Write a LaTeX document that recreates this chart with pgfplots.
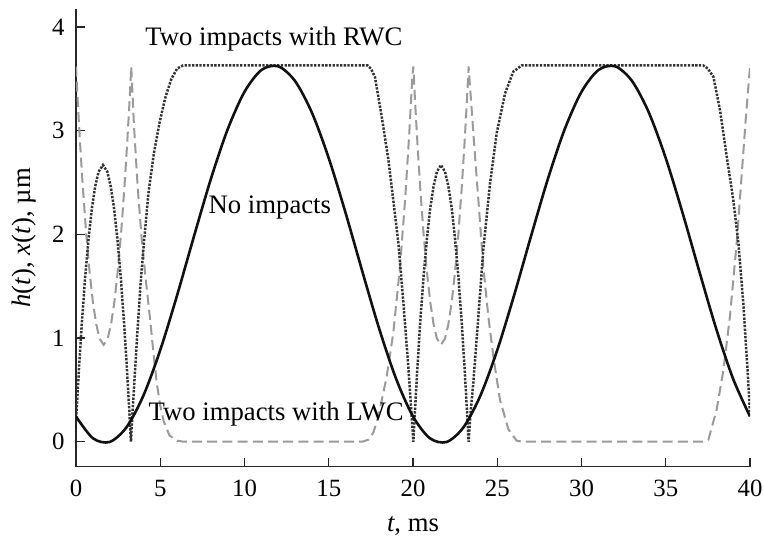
\documentclass[border=0pt]{standalone}
\usepackage{fontspec}
\setmainfont{Liberation Serif}
\usepackage{pgfplots}
\pgfplotsset{compat=1.18}
\definecolor{dotc}{HTML}{333333}
\definecolor{dashc}{HTML}{9A9A9A}
\definecolor{linec}{HTML}{111111}
\begin{document}
\begin{tikzpicture}
\begin{axis}[
  width=337pt, height=228.8pt, scale only axis,
  xmin=0, xmax=40, ymin=-0.24, ymax=4.175,
  axis lines=left,
  axis line style={-, line width=0.65pt, black!85},
  tick align=inside, major tick length=4.5pt,
  tick style={line width=0.65pt, black!85},
  xtick={0,5,...,40}, ytick={0,1,2,3,4},
  /pgf/number format/assume math mode=true,
  tick label style={font=\fontsize{12.4}{15}\selectfont, inner sep=0pt},
  xticklabel style={anchor=north, yshift=-6.65pt},
  yticklabel style={anchor=east, xshift=-5.5pt},
  label style={font=\fontsize{13.35}{16}\selectfont, inner sep=0pt},
  xlabel={\textit{t}, ms},
  xlabel style={at={(axis description cs:0.5,0)}, anchor=base, yshift=-32.2pt},
  ylabel={\textit{h}(\textit{t}), \textit{x}(\textit{t}), µm},
  ylabel style={at={(axis description cs:0,0.5)}, anchor=south, yshift=19.5pt},
]
% Two impacts with LWC (dashed, light gray)
\addplot[dashc, line width=1pt, dash pattern=on 5pt off 2.6pt] coordinates {
(0.00,3.62) (0.10,3.29) (0.25,2.86) (0.40,2.47) (0.60,2.02) (0.80,1.65) (1.00,1.35)
(1.20,1.135) (1.40,0.995) (1.64,0.935) (1.88,0.995) (2.08,1.135) (2.28,1.35)
(2.48,1.65) (2.68,2.02) (2.88,2.47) (3.03,2.86) (3.18,3.29) (3.28,3.62)
(3.44,3.05) (3.66,2.46) (3.90,1.95) (4.15,1.55) (4.40,1.18) (4.60,0.85) (4.80,0.56)
(5.00,0.35) (5.20,0.20) (5.55,0.06) (6.00,0.01) (6.40,0.00)
(17.00,0.00) (17.35,0.02) (17.65,0.09) (17.94,0.24) (18.44,0.63) (18.83,1.05)
(19.23,1.69) (19.53,2.33) (19.78,2.98) (19.96,3.52) (20.02,3.62)
(20.12,3.29) (20.27,2.86) (20.42,2.47) (20.62,2.02) (20.82,1.65) (21.02,1.35)
(21.22,1.135) (21.42,0.995) (21.66,0.935) (21.90,0.995) (22.10,1.135) (22.30,1.35)
(22.50,1.65) (22.70,2.02) (22.90,2.47) (23.05,2.86) (23.20,3.29) (23.30,3.62)
(23.58,2.98) (23.88,2.33) (24.17,1.69) (24.47,1.21) (24.77,0.82) (25.16,0.405)
(25.66,0.12) (26.15,0.01) (26.50,0.00)
(37.20,0.00) (37.53,0.02) (38.02,0.31) (38.42,0.69) (38.81,1.21) (39.21,1.92)
(39.50,2.56) (39.76,3.14) (40.00,3.62)
};
% Two impacts with RWC (dotted, dark gray)
\addplot[dotc, line width=1.25pt, dash pattern=on 1.15pt off 0.7pt] coordinates {
(0.00,0.19) (0.04,0.31) (0.19,0.74) (0.34,1.13) (0.54,1.58) (0.74,1.95) (0.94,2.25)
(1.14,2.465) (1.34,2.605) (1.60,2.67) (1.86,2.605) (2.06,2.465) (2.26,2.25)
(2.46,1.95) (2.66,1.58) (2.86,1.13) (3.01,0.74) (3.16,0.31) (3.26,0.00)
(3.36,0.30) (3.48,0.62) (3.64,1.05) (3.82,1.50) (4.02,1.90) (4.30,2.40) (4.62,2.78)
(4.96,3.08) (5.30,3.32) (5.66,3.50) (6.00,3.60) (6.35,3.63)
(17.30,3.63) (17.50,3.60) (17.74,3.52) (18.14,3.14) (18.54,2.72) (18.83,2.33)
(19.13,1.92) (19.43,1.34) (19.72,0.73) (19.96,0.15) (20.02,0.00)
(20.12,0.31) (20.27,0.74) (20.42,1.13) (20.62,1.58) (20.82,1.95) (21.02,2.25)
(21.22,2.465) (21.42,2.605) (21.66,2.67) (21.90,2.605) (22.10,2.465) (22.30,2.25)
(22.50,1.95) (22.70,1.58) (22.90,1.13) (23.05,0.74) (23.20,0.31) (23.30,0.00)
(23.40,0.25) (23.58,0.57) (23.88,1.21) (24.17,1.85) (24.57,2.49) (24.97,2.98)
(25.46,3.36) (25.95,3.57) (26.45,3.63)
(37.23,3.63) (37.50,3.60) (37.83,3.52) (38.22,3.20) (38.62,2.75) (39.01,2.33)
(39.31,1.92) (39.60,1.34) (39.84,0.73) (40.00,0.28)
};
% No impacts (solid black)
\addplot[linec, line width=1.3pt, smooth] coordinates {
(0,0.244) (1,0.034) (2,-0.002) (3,0.140) (4,0.445) (5,0.884) (6,1.413) (7,1.981)
(8,2.533) (9,3.014) (10,3.376) (11,3.586) (12,3.622) (13,3.480) (14,3.175)
(15,2.736) (16,2.207) (17,1.639) (18,1.087) (19,0.606)
(20,0.244) (21,0.034) (22,-0.002) (23,0.140) (24,0.445) (25,0.884) (26,1.413) (27,1.981)
(28,2.533) (29,3.014) (30,3.376) (31,3.586) (32,3.622) (33,3.480) (34,3.175)
(35,2.736) (36,2.207) (37,1.639) (38,1.087) (39,0.606) (40,0.244)
};
\node[anchor=base west, inner sep=0pt, font=\fontsize{13.35}{16}\selectfont] at (axis cs:4.1,3.82) {Two impacts with RWC};
\node[anchor=base west, inner sep=0pt, font=\fontsize{13.35}{16}\selectfont] at (axis cs:7.85,2.205) {No impacts};
\node[anchor=base west, inner sep=0pt, font=\fontsize{13.35}{16}\selectfont] at (axis cs:4.29,0.205) {Two impacts with LWC};
\coordinate (BL) at (rel axis cs:0,0);
\coordinate (TR) at (rel axis cs:1,1);
\end{axis}
\pgfresetboundingbox
\path ([xshift=-38pt,yshift=-35.65pt]BL) rectangle ([xshift=7pt,yshift=4.5pt]TR);
\end{tikzpicture}
\end{document}
